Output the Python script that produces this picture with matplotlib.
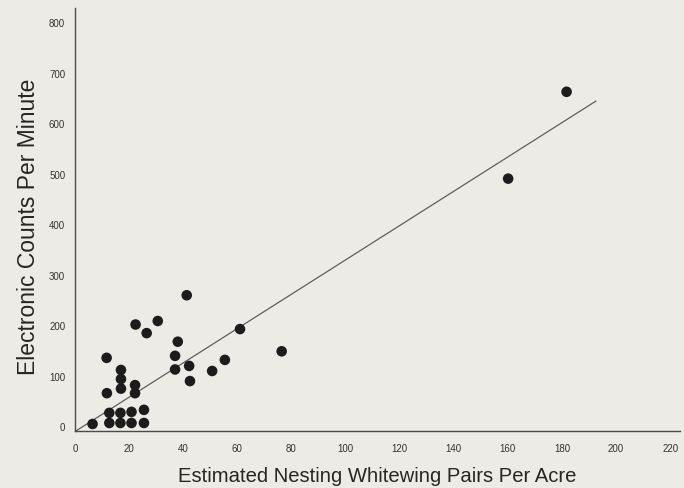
import matplotlib
matplotlib.use("Agg")
import matplotlib.pyplot as plt
import numpy as np

# nesting pairs per acre vs electronic counts per minute
pairs = [6.5, 12.7, 16.8, 20.9, 25.5, 12.7, 16.8, 20.9, 25.5,
         11.7, 11.8, 17.0, 17.0, 17.0, 22.2, 22.2, 22.4, 26.5, 30.6,
         41.3, 38.0, 37.0, 37.0, 42.2, 42.5, 50.7, 55.4, 61.0, 76.4,
         160.1, 181.7]
counts = [6, 8, 8, 8, 8, 28, 28, 30, 34,
          137, 67, 113, 95, 76, 83, 67, 203, 186, 210,
          261, 169, 141, 114, 121, 91, 111, 133, 194, 150,
          492, 664]

# fitted line
fit_slope = 3.4
fit_intercept = -9
fit_x = [0, 192.5]

xticks = [0, 20, 40, 60, 80, 100, 120, 140, 160, 180, 200, 220]
yticks = [0, 100, 200, 300, 400, 500, 600, 700, 800]

paper = "#ecebe5"
fig = plt.figure(figsize=(6.84, 4.88), dpi=100, facecolor=paper)
ax = fig.add_axes([0.1096, 0.1168, 0.8845, 0.8668], facecolor=paper)

fx = np.array(fit_x)
ax.plot(fx, fit_slope * fx + fit_intercept, color="#5e5e5e", lw=0.9, zorder=2)
ax.scatter(pairs, counts, s=58, color="#1c1c1c", edgecolors="none", zorder=3)

ax.set_xlim(0, 223.6)
ax.set_ylim(-7.9, 830)
ax.set_xticks(xticks)
ax.set_yticks(yticks)
ax.tick_params(length=0, labelsize=7, colors="#333333", labelfontfamily="Liberation Sans")
ax.tick_params(axis="x", pad=9)
ax.tick_params(axis="y", pad=7)

for s in ["top", "right"]:
    ax.spines[s].set_visible(False)
for s in ["left", "bottom"]:
    ax.spines[s].set_color("#4a4a4a")
    ax.spines[s].set_linewidth(1.0)

ax.set_xlabel("Estimated Nesting Whitewing Pairs Per Acre", fontsize=14.6,
              family="Liberation Sans", color="#262626", labelpad=10)
ax.set_ylabel("Electronic Counts Per Minute", fontsize=16.5,
              family="Liberation Sans", color="#262626")
ax.yaxis.set_label_coords(-0.058, 0.482)

fig.savefig("out.png", dpi=100, facecolor=paper)
